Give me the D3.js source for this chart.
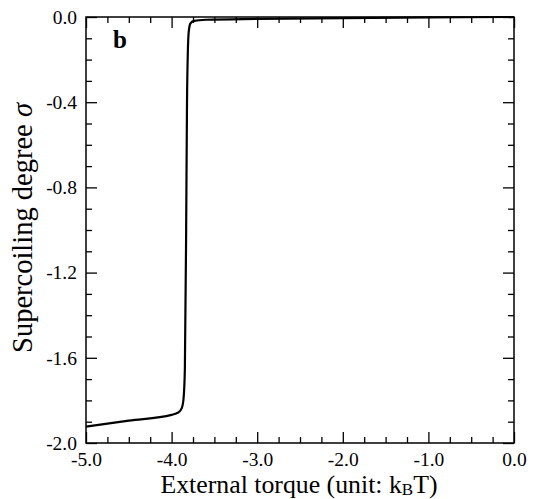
<!DOCTYPE html>
<html><head><meta charset="utf-8">
<script src="https://cdn.jsdelivr.net/npm/d3@7"></script>
<style>body{margin:0;background:#fff}svg{display:block}</style>
</head><body>
<script>
const torque = [-5.0, -4.5, -4.0, -3.92, -3.88, -3.86, -3.845, -3.83, -3.82, -3.81, -3.80, -3.78, -3.74, -3.6, -3.0, -2.0, -1.0, 0.0];
const sigma  = [-1.923, -1.895, -1.868, -1.856, -1.835, -1.79, -1.65, -1.0, -0.40, -0.16, -0.07, -0.03, -0.018, -0.013, -0.009, -0.005, -0.002, 0.0];
const xMajor = [-5, -4, -3, -2, -1, 0];
const yMajor = [0, -0.4, -0.8, -1.2, -1.6, -2.0];

const W = 536, H = 499;
const L = 86, R = 514, T = 17, B = 443;
const font = '"Liberation Serif","Times New Roman",serif';
const svg = d3.select("body").append("svg").attr("width", W).attr("height", H);
const x = d3.scaleLinear().domain([-5, 0]).range([L, R]);
const y = d3.scaleLinear().domain([-2, 0]).range([B, T]);

const xMinor = d3.range(-5, 0.001, 0.25).filter(v => Math.abs(v - Math.round(v)) > 1e-6);
const yMinor = d3.range(-2, 0.001, 0.1).filter(v => !yMajor.some(m => Math.abs(m - v) < 1e-6));
const fmt = d => (Math.abs(d) < 1e-9 ? 0 : d).toFixed(1);

function ax(gen, tr, vals, size, labels) {
  const g = svg.append("g").attr("transform", tr)
    .call(gen.tickValues(vals).tickSizeInner(size).tickSizeOuter(0).tickFormat(labels ? fmt : ""));
  g.select(".domain").remove();
  g.attr("font-size", 19.5).attr("font-family", font);
  g.selectAll("line").attr("stroke", "#000").attr("stroke-width", 1.3);
  g.selectAll("text").attr("font-family", font).attr("font-size", 19.5).attr("fill", "#000");
  return g;
}
// bottom
const gb = ax(d3.axisBottom(x), `translate(0,${B})`, xMajor, -11, true);
gb.selectAll("text").attr("y", 23).attr("dy", null);
ax(d3.axisBottom(x), `translate(0,${B})`, xMinor, -6, false);
// top
ax(d3.axisTop(x), `translate(0,${T})`, xMajor, -11, false);
ax(d3.axisTop(x), `translate(0,${T})`, xMinor, -6, false);
// left
const gl = ax(d3.axisLeft(y), `translate(${L},0)`, yMajor, -11, true);
gl.selectAll("text").attr("x", -9);
ax(d3.axisLeft(y), `translate(${L},0)`, yMinor, -6, false);
// right
ax(d3.axisRight(y), `translate(${R},0)`, yMajor, -11, false);
ax(d3.axisRight(y), `translate(${R},0)`, yMinor, -6, false);

svg.append("rect").attr("x", L).attr("y", T).attr("width", R - L).attr("height", B - T)
  .attr("fill", "none").attr("stroke", "#000").attr("stroke-width", 1.5);

const data = torque.map((t, i) => [t, sigma[i]]);
svg.append("path").datum(data)
  .attr("d", d3.line().x(d => x(d[0])).y(d => y(d[1])).curve(d3.curveMonotoneX))
  .attr("fill", "none").attr("stroke", "#000").attr("stroke-width", 2.2);

svg.append("text").attr("x", 113).attr("y", 48).attr("font-family", font)
  .attr("font-size", 25).attr("font-weight", "bold").text("b");

const xt = svg.append("text").attr("x", 299).attr("y", 493).attr("text-anchor", "middle")
  .attr("font-family", font).attr("font-size", 25.8);
xt.append("tspan").text("External torque (unit: k");
xt.append("tspan").attr("font-size", 17).attr("dy", 2).text("B");
xt.append("tspan").attr("dy", -2).text("T)");

const yt = svg.append("text").attr("transform", `translate(32,228) rotate(-90)`)
  .attr("text-anchor", "middle").attr("font-family", font).attr("font-size", 28.5);
yt.append("tspan").text("Supercoiling degree ");
yt.append("tspan").attr("font-style", "italic").text("σ");
</script>
</body></html>
